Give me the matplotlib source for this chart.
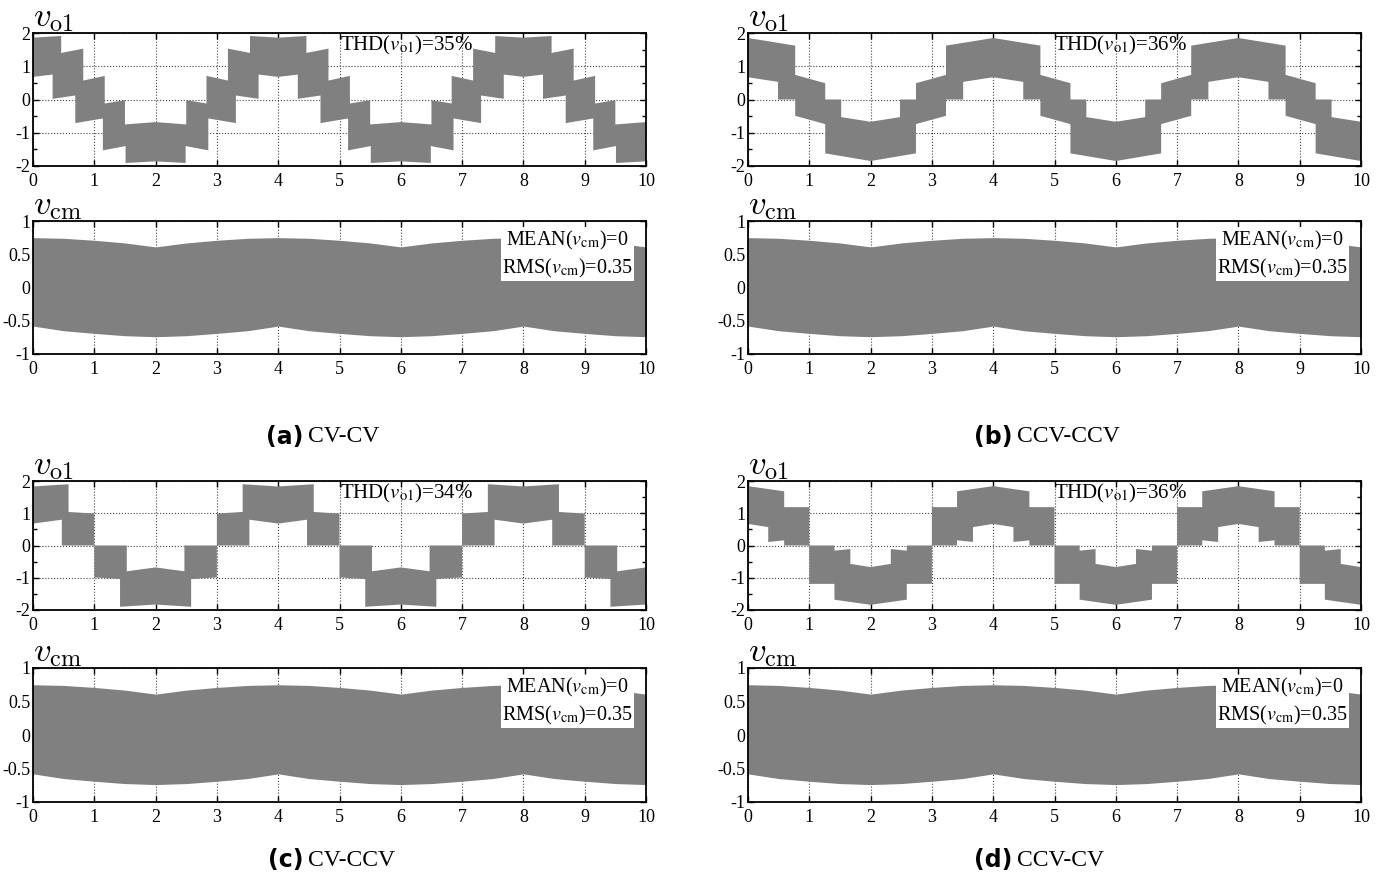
import numpy as np
import matplotlib.pyplot as plt
from matplotlib.ticker import MultipleLocator

plt.rcParams['font.family'] = ['Liberation Serif', 'DejaVu Serif']
plt.rcParams['mathtext.fontset'] = 'stix'

PERIOD = 4.0  # fundamental period of v_o1 (the bands repeat every 4 units)
GRAY = '#808080'

# --- v_o1 bands, one fundamental period each: upper edge and lower edge ---
a_up_t = [0, 0.46, 0.46, 0.82, 0.82, 1.17, 1.17, 1.50, 1.50, 2.0, 2.50, 2.50, 2.83, 2.83, 3.18, 3.18, 3.54, 3.54, 4.0]
a_up_v = [1.86, 1.91, 1.40, 1.53, 0.57, 0.71, -0.12, -0.02, -0.75, -0.68, -0.75, -0.02, -0.12, 0.71, 0.57, 1.53, 1.40, 1.91, 1.86]
a_lo_t = [0, 0.32, 0.32, 0.69, 0.69, 1.14, 1.14, 1.51, 1.51, 2.0, 2.49, 2.49, 2.86, 2.86, 3.31, 3.31, 3.68, 3.68, 4.0]
a_lo_v = [0.68, 0.75, 0.02, 0.12, -0.71, -0.57, -1.53, -1.40, -1.91, -1.86, -1.91, -1.40, -1.53, -0.57, -0.71, 0.12, 0.02, 0.75, 0.68]

b_up_t = [0, 0.77, 0.77, 1.26, 1.26, 1.52, 1.52, 2.0, 2.48, 2.48, 2.74, 2.74, 3.23, 3.23, 4.0]
b_up_v = [1.85, 1.62, 0.74, 0.49, 0.0, 0.0, -0.53, -0.67, -0.53, 0.0, 0.0, 0.49, 0.74, 1.62, 1.85]
b_lo_t = [0, 0.49, 0.49, 0.77, 0.77, 1.26, 1.26, 2.0, 2.74, 2.74, 3.23, 3.23, 3.51, 3.51, 4.0]
b_lo_v = [0.67, 0.53, 0.0, 0.0, -0.49, -0.74, -1.62, -1.85, -1.62, -0.74, -0.49, 0.0, 0.0, 0.53, 0.67]

c_up_t = [0, 0.58, 0.58, 1.0, 1.0, 1.53, 1.53, 2.0, 2.47, 2.47, 3.0, 3.0, 3.42, 3.42, 4.0]
c_up_v = [1.83, 1.90, 1.04, 0.99, 0.0, 0.0, -0.80, -0.68, -0.80, 0.0, 0.0, 0.99, 1.04, 1.90, 1.83]
c_lo_t = [0, 0.47, 0.47, 1.0, 1.0, 1.42, 1.42, 2.0, 2.58, 2.58, 3.0, 3.0, 3.53, 3.53, 4.0]
c_lo_v = [0.68, 0.80, 0.0, 0.0, -0.99, -1.04, -1.90, -1.83, -1.90, -1.04, -0.99, 0.0, 0.0, 0.80, 0.68]

d_up_t = [0, 0.59, 0.59, 1.0, 1.0, 1.41, 1.41, 1.67, 1.67, 2.0, 2.33, 2.33, 2.59, 2.59, 3.0, 3.0, 3.41, 3.41, 4.0]
d_up_v = [1.84, 1.68, 1.19, 1.19, 0.0, 0.0, -0.16, -0.11, -0.57, -0.67, -0.57, -0.11, -0.16, 0.0, 0.0, 1.19, 1.19, 1.68, 1.84]
d_lo_t = [0, 0.33, 0.33, 0.59, 0.59, 1.0, 1.0, 1.41, 1.41, 2.0, 2.59, 2.59, 3.0, 3.0, 3.41, 3.41, 3.67, 3.67, 4.0]
d_lo_v = [0.67, 0.57, 0.11, 0.16, 0.0, 0.0, -1.19, -1.19, -1.68, -1.84, -1.68, -1.19, -1.19, 0.0, 0.0, 0.16, 0.11, 0.57, 0.67]

# --- v_cm band envelope, one period (same in all four cases) ---
cm_t = [0, 0.5, 1.0, 1.5, 2.0, 2.5, 3.0, 3.5, 4.0]
cm_up = [0.75, 0.74, 0.71, 0.67, 0.61, 0.67, 0.71, 0.74, 0.75]
cm_lo = [-0.58, -0.65, -0.69, -0.725, -0.74, -0.725, -0.69, -0.65, -0.58]

thd_vals = ['35%', '36%', '34%', '36%']
cm_mean = '0'
cm_rms = '0.35'
tags = ['(a)', '(b)', '(c)', '(d)']
names = ['CV-CV', 'CCV-CCV', 'CV-CCV', 'CCV-CV']

bands = [(a_up_t, a_up_v, a_lo_t, a_lo_v),
         (b_up_t, b_up_v, b_lo_t, b_lo_v),
         (c_up_t, c_up_v, c_lo_t, c_lo_v),
         (d_up_t, d_up_v, d_lo_t, d_lo_v)]


def repeat(t, v, n=3):
    # the waveform is periodic, lay the measured period side by side
    tt = np.concatenate([np.asarray(t, float) + PERIOD * k for k in range(n)])
    vv = np.tile(np.asarray(v, float), n)
    return tt, vv


def draw_band(ax, ut, uv, lt, lv):
    ut, uv = repeat(ut, uv)
    lt, lv = repeat(lt, lv)
    ax.fill(np.r_[ut, lt[::-1]], np.r_[uv, lv[::-1]], color=GRAY, lw=0, zorder=2)


def style(ax, ylim, major, minor=None):
    ax.set_xlim(0, 10)
    ax.set_ylim(*ylim)
    ax.xaxis.set_major_locator(MultipleLocator(1))
    ax.yaxis.set_major_locator(MultipleLocator(major))
    if minor:
        ax.yaxis.set_minor_locator(MultipleLocator(minor))
    ax.tick_params(which='both', direction='in', top=True, right=True,
                   width=1, labelsize=13)
    ax.tick_params(axis='x', pad=5)
    ax.tick_params(axis='y', pad=2)
    ax.tick_params(which='major', length=4)
    ax.tick_params(which='minor', length=3)
    ax.grid(True, which='major', linestyle=':', color='#444444', linewidth=0.8)
    ax.set_axisbelow(True)
    for s in ax.spines.values():
        s.set_linewidth(1.3)
    ax.yaxis.set_major_formatter(plt.FuncFormatter(lambda v, p: f'{v:g}'))


fig = plt.figure(figsize=(13.82, 8.76), dpi=100)
W, H = 1382.0, 876.0

lefts = [33, 748, 33, 748]
tops = [33, 33, 481, 481]
width = 613
h_vo = [133, 133, 129, 129]      # v_o1 axes height per case
vcm_top = [221, 221, 668, 668]
h_cm = [133, 133, 134, 134]
cap_y = [437, 437, 860, 860]
cap_x = [303, 1012, 303, 1012]

for i in range(4):
    x0 = lefts[i] / W
    ax1 = fig.add_axes([x0, 1 - (tops[i] + h_vo[i]) / H, width / W, h_vo[i] / H])
    ax2 = fig.add_axes([x0, 1 - (vcm_top[i] + h_cm[i]) / H, width / W, h_cm[i] / H])

    draw_band(ax1, *bands[i])
    style(ax1, (-2, 2), 1, 0.5)
    ax1.text(0.0, 0.99, r'$v_{\mathrm{o1}}$', transform=ax1.transAxes, fontsize=25,
             ha='left', va='bottom', math_fontfamily='cm')
    ax1.text(5.0, 1.62, r'THD($v_{\mathrm{o1}}$)=' + thd_vals[i], fontsize=15,
             ha='left', va='center', zorder=5)

    ct, cu = repeat(cm_t, cm_up)
    _, cl = repeat(cm_t, cm_lo)
    ax2.fill_between(ct, cl, cu, color=GRAY, lw=0, zorder=2)
    style(ax2, (-1, 1), 0.5)
    ax2.text(0.0, 0.99, r'$v_{\mathrm{cm}}$', transform=ax2.transAxes, fontsize=25,
             ha='left', va='bottom', math_fontfamily='cm')
    ax2.text(8.72, 0.50, 'MEAN($v_{\\mathrm{cm}}$)=' + cm_mean + '\n' +
             'RMS($v_{\\mathrm{cm}}$)=' + cm_rms,
             fontsize=14.5, ha='center', va='center', linespacing=1.3, zorder=5,
             bbox=dict(facecolor='white', edgecolor='none', pad=1))

    # caption below each pair
    fig.text(cap_x[i] / W, 1 - cap_y[i] / H, tags[i], ha='right', va='center',
             fontsize=17, fontweight='bold', family='DejaVu Sans')
    fig.text((cap_x[i] + 5) / W, 1 - cap_y[i] / H, names[i], ha='left',
             va='center', fontsize=17)

fig.savefig('out.png', dpi=100)
